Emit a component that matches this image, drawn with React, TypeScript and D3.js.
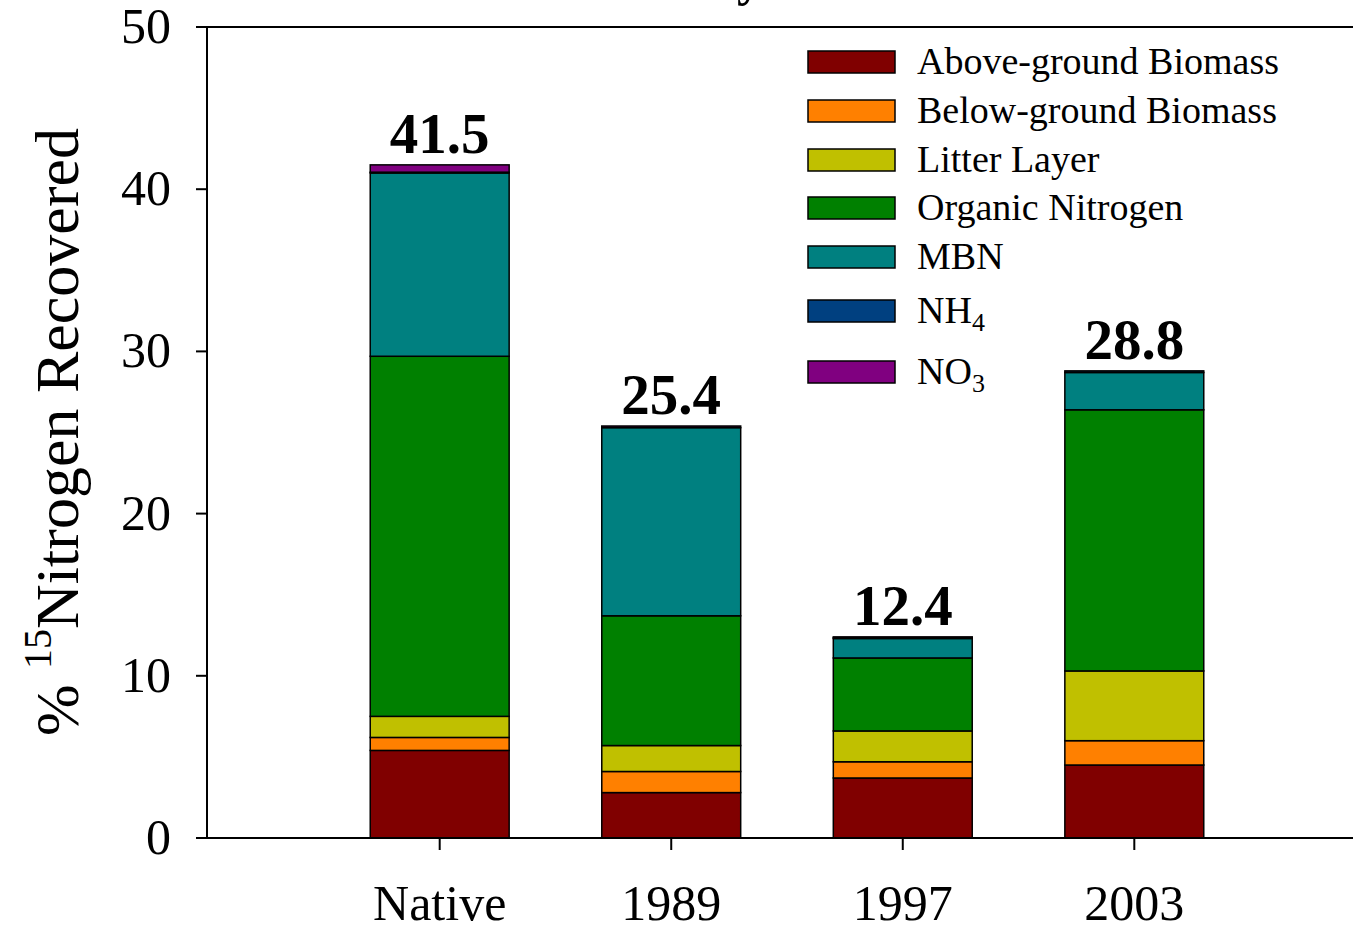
import * as d3 from "d3"

const categories = ["Native", "1989", "1997", "2003"]
const aboveGround = [5.4, 2.8, 3.7, 4.5]
const belowGround = [0.8, 1.3, 1.0, 1.5]
const litterLayer = [1.3, 1.6, 1.9, 4.3]
const organicN = [22.2, 8.0, 4.5, 16.1]
const mbn = [11.3, 11.6, 1.2, 2.3]
const nh4 = [0.05, 0.0, 0.05, 0.1]
const no3 = [0.45, 0.1, 0.05, 0.0]
const totalLabels = ["41.5", "25.4", "12.4", "28.8"]
const yTicks = [0, 10, 20, 30, 40, 50]

const seriesKeys = ["agb", "bgb", "litter", "org", "mbn", "nh4", "no3"]
const seriesValues = [aboveGround, belowGround, litterLayer, organicN, mbn, nh4, no3]
const seriesNames = [
  { text: "Above-ground Biomass", sub: "" },
  { text: "Below-ground Biomass", sub: "" },
  { text: "Litter Layer", sub: "" },
  { text: "Organic Nitrogen", sub: "" },
  { text: "MBN", sub: "" },
  { text: "NH", sub: "4" },
  { text: "NO", sub: "3" },
]
const colors = ["#800000", "#ff8000", "#c0c000", "#008000", "#008080", "#004080", "#800080"]

const FONT = "'Liberation Serif', 'Times New Roman', serif"

export default function App() {
  const width = 1353
  const height = 927
  const margin = { left: 207, top: 27, bottom: 838 }

  const rows = categories.map((c, i) => {
    const r: Record<string, number | string> = { cat: c }
    seriesKeys.forEach((k, j) => (r[k] = seriesValues[j][i]))
    return r
  })
  const stacked = d3.stack<Record<string, number | string>>().keys(seriesKeys)(rows as any)

  const x = d3
    .scaleBand()
    .domain(categories)
    .range([margin.left, 1367])
    .paddingInner(0.4)
    .paddingOuter(0.705)
  const y = d3.scaleLinear().domain([0, 50]).range([margin.bottom, margin.top])

  const totals = categories.map((_, i) => d3.sum(seriesValues, (s) => s[i]))

  // legend row centres (the subscripted rows sit a bit lower)
  const legendY = [62, 111, 160, 208, 257, 311, 372]

  return (
    <div style={{ position: "absolute", left: 0, top: 0 }}>
      <svg width={width} height={height} style={{ display: "block", background: "#fff" }} fontFamily={FONT}>
        {/* title, mostly above the visible area */}
        <text x={762} y={-5} textAnchor="end" fontSize={50} fontWeight="bold">
          Recovery
        </text>

        {/* bars */}
        {stacked.map((layer, j) =>
          layer.map((d, i) => {
            const h = y(d[0]) - y(d[1])
            if (h <= 0) return null
            return (
              <rect
                key={`${j}-${i}`}
                x={x(categories[i])}
                y={y(d[1])}
                width={x.bandwidth()}
                height={h}
                fill={colors[j]}
                stroke="#000"
                strokeWidth={1.5}
              />
            )
          }),
        )}

        {/* total labels */}
        {categories.map((c, i) => (
          <text
            key={c}
            x={(x(c) || 0) + x.bandwidth() / 2}
            y={y(totals[i]) - 12}
            textAnchor="middle"
            fontSize={57}
            fontWeight="bold"
          >
            {totalLabels[i]}
          </text>
        ))}

        {/* axes */}
        <line x1={margin.left} x2={width} y1={margin.bottom} y2={margin.bottom} stroke="#000" strokeWidth={2} />
        <line x1={margin.left} x2={width} y1={margin.top} y2={margin.top} stroke="#000" strokeWidth={2} />
        <line x1={margin.left} x2={margin.left} y1={margin.top} y2={margin.bottom} stroke="#000" strokeWidth={2} />

        {yTicks.map((t) => (
          <g key={t}>
            <line x1={margin.left - 11} x2={margin.left} y1={y(t)} y2={y(t)} stroke="#000" strokeWidth={2} />
            <text x={171} y={y(t) + 16} textAnchor="end" fontSize={50}>
              {t}
            </text>
          </g>
        ))}

        {categories.map((c) => {
          const cx = (x(c) || 0) + x.bandwidth() / 2
          return (
            <g key={c}>
              <line x1={cx} x2={cx} y1={margin.bottom} y2={margin.bottom + 12} stroke="#000" strokeWidth={2} />
              <text x={cx} y={920} textAnchor="middle" fontSize={50}>
                {c}
              </text>
            </g>
          )
        })}

        {/* y axis title */}
        <text transform="translate(78,432) rotate(-90)" textAnchor="middle" fontSize={62}>
          %{" "}
          <tspan fontSize={40} dy={-27}>
            15
          </tspan>
          <tspan dy={27}>Nitrogen Recovered</tspan>
        </text>

        {/* legend */}
        {seriesNames.map((s, j) => (
          <g key={s.text}>
            <rect
              x={808}
              y={legendY[j] - 11}
              width={87}
              height={22}
              fill={colors[j]}
              stroke="#000"
              strokeWidth={1.5}
            />
            <text x={917} y={legendY[j] + 12} fontSize={38}>
              {s.text}
              {s.sub && (
                <tspan fontSize={26} dy={8}>
                  {s.sub}
                </tspan>
              )}
            </text>
          </g>
        ))}
      </svg>
    </div>
  )
}
